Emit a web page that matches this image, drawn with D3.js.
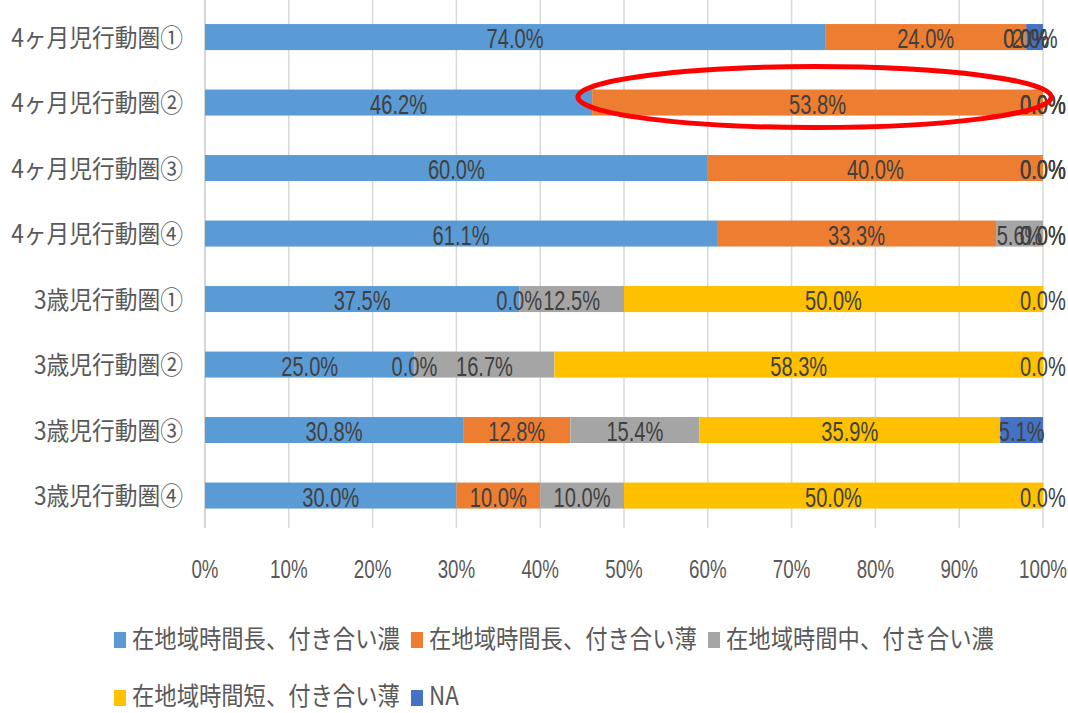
<!DOCTYPE html>
<html><head><meta charset="utf-8">
<script src="https://cdn.jsdelivr.net/npm/d3@7"></script>
<style>html,body{margin:0;padding:0;background:#fff;}svg{display:block;}</style>
</head><body>
<svg id="chart" width="1068" height="713"></svg>
<script>
const categories = ["4ヶ月児行動圏①","4ヶ月児行動圏②","4ヶ月児行動圏③","4ヶ月児行動圏④","3歳児行動圏①","3歳児行動圏②","3歳児行動圏③","3歳児行動圏④"];
const seriesNames = ["在地域時間長、付き合い濃","在地域時間長、付き合い薄","在地域時間中、付き合い濃","在地域時間短、付き合い薄","NA"];
const longDense = [74.0,46.2,60.0,61.1,37.5,25.0,30.8,30.0];
const longThin  = [24.0,53.8,40.0,33.3,0.0,0.0,12.8,10.0];
const midDense  = [0.0,0.0,0.0,5.6,12.5,16.7,15.4,10.0];
const shortThin = [0.0,0.0,0.0,0.0,50.0,58.3,35.9,50.0];
const naVals    = [2.0,0.0,0.0,0.0,0.0,0.0,5.1,0.0];
const xTicks = [0,10,20,30,40,50,60,70,80,90,100];
const colors = ["#5B9BD5","#ED7D31","#A5A5A5","#FFC000","#4472C4"];
const highlightCategory = "4ヶ月児行動圏②";

(function(){
const seriesValues = [longDense,longThin,midDense,shortThin,naVals];
const rows = categories.map((c,i)=>{const o={cat:c};seriesNames.forEach((s,j)=>o[s]=seriesValues[j][i]);return o;});
const stacked = d3.stack().keys(seriesNames)(rows);

const svg = d3.select("#chart");
const pLeft=205, pRight=1043, pTop=4.3, pBottom=528.3;
const x = d3.scaleLinear().domain([0,100]).range([pLeft,pRight]);
const y = d3.scaleBand().domain(categories).range([pTop,pBottom]).paddingInner(0.603).paddingOuter(0.3015);

const numFont = "'Liberation Sans', Arial, sans-serif";
const cjkFont = "'Noto Sans CJK JP', 'Noto Sans', sans-serif";

function measure(txt, family, size){
  const t = svg.append("text").attr("font-family",family).attr("font-size",size).text(txt);
  const w = t.node().getComputedTextLength(); t.remove(); return w;
}
const sxData = 57/measure("53.8%", numFont, 28);
const sxTick = 48/measure("100%", numFont, 25);
const sxCat = 172/measure("4ヶ月児行動圏①", cjkFont, 25);
const sxLeg = 268/measure("在地域時間長、付き合い濃", cjkFont, 25);

function sText(g, txt, px, py, sx, family, size, fill, anchor){
  return g.append("text").attr("transform",`translate(${px},${py}) scale(${sx},1)`)
    .attr("font-family",family).attr("font-size",size).attr("fill",fill)
    .attr("text-anchor",anchor).text(txt);
}

// gridlines
svg.append("g").selectAll("line").data(xTicks).join("line")
  .attr("x1",d=>x(d)).attr("x2",d=>x(d)).attr("y1",0).attr("y2",pBottom)
  .attr("stroke",d=>d===0?"#c8c8c8":"#d9d9d9").attr("stroke-width",1.5);

// bars
const gBars = svg.append("g");
stacked.forEach((s,si)=>{
  gBars.append("g").attr("fill",colors[si]).selectAll("rect").data(s).join("rect")
    .attr("x",d=>x(d[0])).attr("width",d=>x(d[1])-x(d[0]))
    .attr("y",d=>y(d.data.cat)).attr("height",y.bandwidth());
});

// data labels
const gLab = svg.append("g");
stacked.forEach((s,si)=>{
  s.forEach(d=>{
    const v = d.data[s.key];
    sText(gLab, v.toFixed(1)+"%", x((d[0]+d[1])/2), y(d.data.cat)+y.bandwidth()/2+11, sxData, numFont, 28, "#404040","middle");
  });
});

// category labels
const gCat = svg.append("g");
categories.forEach(c=>{
  sText(gCat, c, 183, y(c)+y.bandwidth()/2+9.5, sxCat, cjkFont, 25, "#595959","end");
});

// x tick labels
const gTick = svg.append("g");
xTicks.forEach(t=>{
  sText(gTick, t+"%", x(t), 578, sxTick, numFont, 25, "#595959","middle");
});

// legend
const gLeg = svg.append("g");
const legRows = [[0,1,2],[3,4]];
const legBase = [648,705];
const legBox = [632,690];
legRows.forEach((r,ri)=>{
  let cx = 114;
  r.forEach(si=>{
    gLeg.append("rect").attr("x",cx).attr("y",legBox[ri]).attr("width",12).attr("height",16).attr("fill",colors[si]);
    const w = measure(seriesNames[si], cjkFont, 25)*sxLeg;
    sText(gLeg, seriesNames[si], cx+18, legBase[ri], sxLeg, cjkFont, 25, "#595959","start");
    cx += 18 + w + 11;
  });
});

// highlight ellipse
const lx = x(44.5), rx = x(101);
svg.append("ellipse").attr("cx",(lx+rx)/2).attr("cy",y(highlightCategory)+y.bandwidth()/2-5.5)
  .attr("rx",(rx-lx)/2).attr("ry",30.5).attr("fill","none").attr("stroke","#ff0000").attr("stroke-width",5);
})();
</script>
</body></html>
